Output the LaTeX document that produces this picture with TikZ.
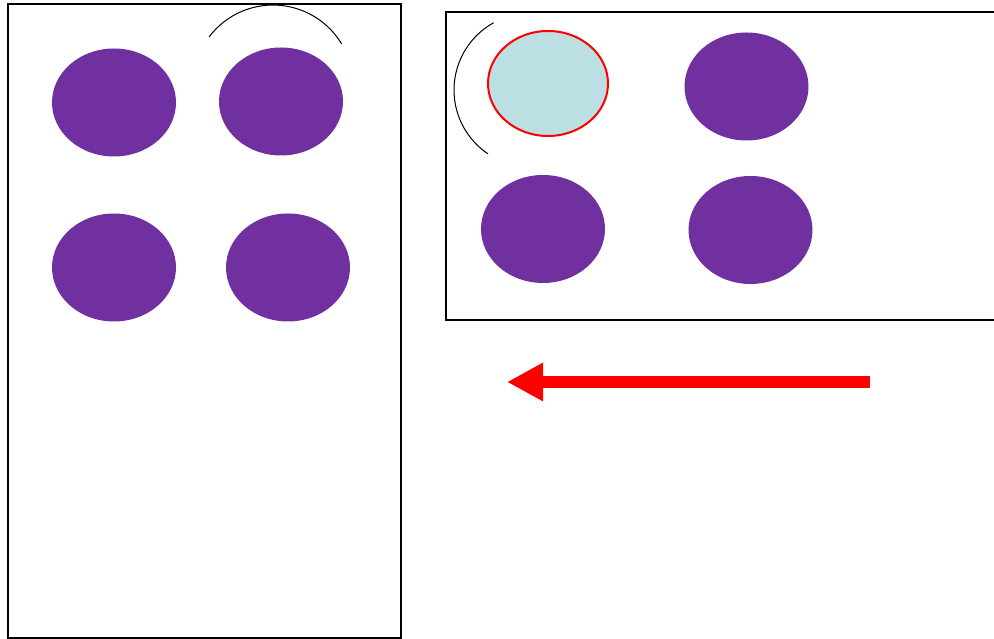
\documentclass[tikz,border=0pt]{standalone}
\usepackage{tikz}
\usetikzlibrary{shapes.geometric,arrows.meta}
\definecolor{beadpurple}{HTML}{7030A0}
\definecolor{beadblue}{HTML}{BBDFE3}

\begin{document}
\begin{tikzpicture}[x=1pt,y=1pt]
	\useasboundingbox (0,0) rectangle (994,639);
	% frames
	\draw [line width=2pt] (8,1) rectangle (401,635);
	\draw [line width=2pt] (994,627) -- (446,627) -- (446,319) -- (994,319);
	\begin{scope}[every node/.style={ellipse,fill=beadpurple,inner sep=0pt,minimum width=124pt,minimum height=108pt}]
	\node (L1) at (114,536.5) {};
	\node (L2) at (281,537.5) {};
	\node (L3) at (114,371.5) {};
	\node (L4) at (288,371.5) {};
	\node [fill=beadblue,draw=red,line width=2pt,minimum width=120pt,minimum height=105pt] (R1) at (548,555.5) {};
	\node (R2) at (746.5,552.5) {};
	\node (R3) at (543,410) {};
	\node (R4) at (750.5,409) {};
	\end{scope}
	% arcs
	\draw [line width=1pt] (209.1,602.1) arc (143:31:80);
	\draw [line width=1pt] (493.7,616.3) arc (119:236:77);
	% arrow
	\coordinate (arrowstart) at (870,257);
	\coordinate (arrowend) at (507,257);
	\draw [red, line width=12pt, -{Triangle[length=36pt,width=36pt]}] (arrowstart) -- (arrowend);
\end{tikzpicture}
\end{document}
